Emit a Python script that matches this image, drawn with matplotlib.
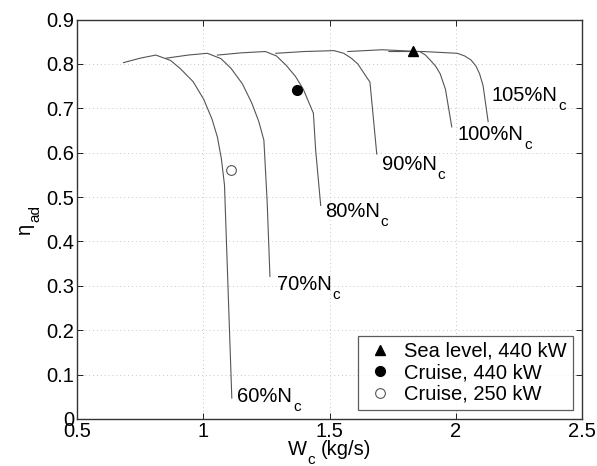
import math
import matplotlib
matplotlib.use("Agg")
import matplotlib.pyplot as plt
from matplotlib.transforms import offset_copy

plt.rcParams['font.family'] = ['Liberation Sans', 'DejaVu Sans']

# Corrected mass flow (kg/s) and adiabatic efficiency per speed line
w60 = [0.684, 0.75, 0.812, 0.87, 0.908, 0.96, 1.002, 1.035, 1.056, 1.072, 1.084, 1.113]
e60 = [0.803, 0.813, 0.820, 0.808, 0.790, 0.760, 0.720, 0.675, 0.635, 0.585, 0.527, 0.047]

w70 = [0.853, 0.94, 1.016, 1.07, 1.11, 1.155, 1.192, 1.22, 1.24, 1.253, 1.264]
e70 = [0.813, 0.820, 0.824, 0.812, 0.790, 0.755, 0.712, 0.670, 0.628, 0.489, 0.321]

w80 = [1.056, 1.15, 1.246, 1.29, 1.328, 1.365, 1.396, 1.436, 1.445, 1.465]
e80 = [0.820, 0.825, 0.828, 0.818, 0.797, 0.772, 0.743, 0.689, 0.606, 0.481]

w90 = [1.287, 1.40, 1.518, 1.556, 1.586, 1.612, 1.633, 1.66, 1.687]
e90 = [0.824, 0.828, 0.830, 0.824, 0.813, 0.800, 0.782, 0.759, 0.597]

w100 = [1.572, 1.708, 1.857, 1.88, 1.898, 1.92, 1.938, 1.959, 1.984]
e100 = [0.828, 0.832, 0.828, 0.820, 0.809, 0.795, 0.778, 0.743, 0.658]

w105 = [1.735, 1.87, 2.006, 2.035, 2.06, 2.08, 2.094, 2.108, 2.128]
e105 = [0.828, 0.828, 0.824, 0.818, 0.809, 0.795, 0.778, 0.751, 0.670]

speed_lines = [(w60, e60), (w70, e70), (w80, e80), (w90, e90), (w100, e100), (w105, e105)]
speed_labels = ['60%', '70%', '80%', '90%', '100%', '105%']
label_x = [1.135, 1.293, 1.482, 1.708, 2.006, 2.142]
label_y = [0.038, 0.291, 0.456, 0.562, 0.628, 0.717]

# Operating points
pt_names = ['Sea level, 440 kW', 'Cruise, 440 kW', 'Cruise, 250 kW']
pt_w = [1.829, 1.371, 1.11]
pt_e = [0.830, 0.742, 0.56]

FS = 14.5
SFS = 11
DROP = 6.5

fig = plt.figure(figsize=(5.97, 4.66), dpi=100)
ax = fig.add_axes([0.129, 0.101, 0.846, 0.857])
renderer = fig.canvas.get_renderer()


def width_pts(s, fs):
    t = fig.text(0, 0, s, fontsize=fs)
    w = t.get_window_extent(renderer).width * 72.0 / fig.dpi
    t.remove()
    return w


def composite(x, y, parts, trans, ha='left', rot=0):
    """parts: list of (text, is_subscript, gap_before_pts)."""
    widths = [width_pts(s, SFS if sub else FS) for s, sub, g in parts]
    total = sum(widths) + sum(g for _, _, g in parts)
    pos = 0.0 if ha == 'left' else -total / 2.0
    c, s_ = math.cos(math.radians(rot)), math.sin(math.radians(rot))
    for (txt, sub, gap), w in zip(parts, widths):
        pos += gap
        perp = -DROP if sub else 0.0
        ox = pos * c - perp * s_
        oy = pos * s_ + perp * c
        tr = offset_copy(trans, fig=fig, x=ox, y=oy, units='points')
        fig.text(x, y, txt, transform=tr, fontsize=SFS if sub else FS,
                 rotation=rot, rotation_mode='anchor', ha='left', va='baseline')
        pos += w


for (w, e) in speed_lines:
    ax.plot(w, e, color='#555555', lw=0.8)

for lab, lx, ly in zip(speed_labels, label_x, label_y):
    composite(lx, ly, [(lab + 'N', False, 0.0), ('c', True, 0.6)], ax.transData)

ax.plot(pt_w[0], pt_e[0], '^', color='black', ms=7, ls='none', label=pt_names[0])
ax.plot(pt_w[1], pt_e[1], 'o', color='black', ms=7, ls='none', label=pt_names[1])
ax.plot(pt_w[2], pt_e[2], 'o', mfc='white', mec='#555555', mew=0.8, ms=7, ls='none', label=pt_names[2])

ax.set_xlim(0.5, 2.5)
ax.set_ylim(0, 0.9)
ax.set_xticks([0.5, 1, 1.5, 2, 2.5])
ax.set_xticklabels(['0.5', '1', '1.5', '2', '2.5'])
ax.set_yticks([0, 0.1, 0.2, 0.3, 0.4, 0.5, 0.6, 0.7, 0.8, 0.9])
ax.set_yticklabels(['0', '0.1', '0.2', '0.3', '0.4', '0.5', '0.6', '0.7', '0.8', '0.9'])
ax.tick_params(direction='in', labelsize=FS, length=4, width=0.6, top=True, right=True, pad=2)
ax.grid(True, color='#c8c8c8', linestyle=(0, (1, 3)), linewidth=0.7)
for s in ax.spines.values():
    s.set_linewidth(1.0)
    s.set_color('#333333')

# x label: W_c (kg/s), baseline about 36 px below the axes
xl_trans = offset_copy(ax.transAxes, fig=fig, x=0, y=-36 * 72.0 / 100, units='points')
composite(0.5, 0.0, [('W', False, 0.0), ('c', True, 0.3), ('(kg/s)', False, 4.0)], xl_trans, ha='center')

# y label: eta_ad, rotated
yl_trans = offset_copy(ax.transAxes, fig=fig, x=-47 * 72.0 / 100, y=0, units='points')
composite(0.0, 0.5, [('\u03b7', False, 0.0), ('ad', True, 0.3)], yl_trans, ha='center', rot=90)

leg = ax.legend(loc='lower right', fontsize=FS, frameon=True, fancybox=False,
                edgecolor='#333333', borderaxespad=0.45, handletextpad=0.4,
                handlelength=1.6, borderpad=0.3, labelspacing=0.12)
leg.get_frame().set_linewidth(0.9)

fig.savefig('out.png', dpi=100)
